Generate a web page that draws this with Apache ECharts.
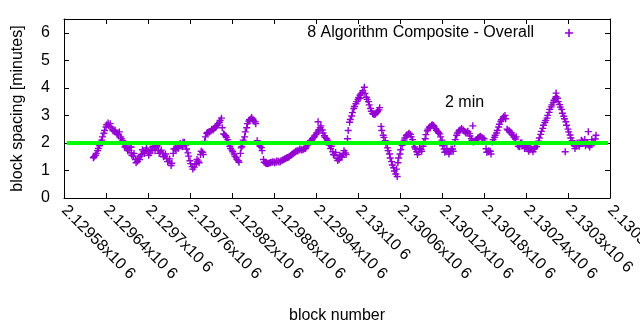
<!DOCTYPE html>
<html>
<head>
<meta charset="utf-8">
<script src="https://cdn.jsdelivr.net/npm/echarts@6/dist/echarts.min.js"></script>
<style>
  html, body { margin: 0; padding: 0; background: #ffffff; }
  #chart { width: 640px; height: 330px; }
</style>
</head>
<body>
<div id="chart"></div>
<script>
// Block spacing (minutes), two interleaved samplings every `blockStep` blocks
const firstBlock = 2129622;
const blockStep = 3;
const spacing = [
  1.46, 1.55, 1.72, 1.90, 2.10, 2.35, 2.58, 2.72, 2.70, 2.50,
  2.42, 2.36, 2.30, 2.22, 2.08, 1.85, 1.79, 1.74, 1.64, 1.52,
  1.40, 1.33, 1.40, 1.58, 1.69, 1.74, 1.68, 1.63, 1.73, 1.83,
  1.85, 1.74, 1.67, 1.62, 1.52, 1.44, 1.34, 1.18, 1.62, 1.80,
  1.86, 1.89, 1.93, 1.96, 1.92, 1.64, 1.35, 1.14, 1.12, 1.25,
  1.34, 1.58, 1.66, 2.05, 2.35, 2.39, 2.43, 2.47, 2.55, 2.64,
  2.75, 2.90, 2.33, 2.26, 2.12, 1.88, 1.74, 1.60, 1.47, 1.35,
  1.62, 1.98, 2.22, 2.55, 2.79, 2.87, 2.86, 2.77, 2.08, 1.94,
  1.83, 1.40, 1.27, 1.24, 1.27, 1.30, 1.32, 1.30, 1.33, 1.32,
  1.37, 1.41, 1.45, 1.48, 1.54, 1.60, 1.66, 1.72, 1.74, 1.75,
  1.77, 1.80, 1.92, 2.04, 2.11, 2.20, 2.30, 2.43, 2.55, 2.47,
  2.26, 2.16, 2.05, 1.80, 1.68, 1.56, 1.44, 1.40, 1.52, 1.61,
  1.64, 2.15, 2.75, 2.98, 3.25, 3.42, 3.58, 3.73, 3.83, 4.02,
  3.66, 3.50, 3.25, 3.07, 3.03, 3.10, 3.20, 2.60, 2.28, 2.08,
  1.82, 1.60, 1.32, 1.10, 0.87, 1.28, 1.60, 1.91, 2.10, 2.26,
  2.32, 2.31, 2.12, 1.85, 1.68, 1.67, 1.77, 1.88, 2.15, 2.44,
  2.56, 2.63, 2.63, 2.52, 2.41, 2.33, 2.10, 1.78, 1.70, 1.67,
  1.69, 1.78, 1.98, 2.28, 2.43, 2.48, 2.48, 2.41, 2.39, 2.34,
  2.15, 2.03, 2.08, 2.17, 2.22, 2.20, 2.15, 1.79, 1.67, 1.70,
  2.03, 2.20, 2.36, 2.58, 2.78, 2.90, 3.00, 2.50, 2.44, 2.37,
  2.26, 2.14, 1.95, 1.86, 2.01, 1.93, 1.84, 1.77, 1.75, 1.76,
  1.79, 1.87, 2.06, 2.31, 2.53, 2.74, 2.90, 3.11, 3.31, 3.47,
  3.62, 3.62, 3.39, 3.22, 2.97, 2.77, 2.50, 2.29, 2.08, 1.90,
  1.89, 1.93, 1.98, 2.06, 2.12, 1.98, 1.91, 1.93, 2.03, 2.14
];
// The blocks one after each of the above
const spacingNext = [
  1.50, 1.62, 1.80, 2.02, 2.22, 2.45, 2.66, 2.62, 2.58, 2.44,
  2.46, 2.30, 2.40, 2.15, 1.95, 1.92, 1.72, 1.84, 1.55, 1.62,
  1.28, 1.45, 1.52, 1.75, 1.62, 1.82, 1.55, 1.76, 1.88, 1.72,
  1.90, 1.62, 1.74, 1.50, 1.60, 1.32, 1.42, 1.26, 1.78, 1.74,
  1.80, 1.98, 1.86, 2.02, 1.78, 1.52, 1.25, 1.05, 1.22, 1.40,
  1.28, 1.70, 1.58, 2.22, 2.38, 2.41, 2.50, 2.52, 2.60, 2.70,
  2.82, 2.55, 2.30, 2.20, 1.98, 1.80, 1.68, 1.52, 1.40, 1.30,
  1.82, 2.10, 2.40, 2.70, 2.84, 2.92, 2.80, 2.70, 1.98, 1.88,
  1.72, 1.30, 1.25, 1.26, 1.29, 1.31, 1.28, 1.34, 1.31, 1.35,
  1.39, 1.43, 1.47, 1.52, 1.57, 1.63, 1.70, 1.71, 1.78, 1.74,
  1.79, 1.85, 1.98, 2.08, 2.15, 2.25, 2.36, 2.48, 2.62, 2.36,
  2.20, 2.10, 1.92, 1.88, 1.58, 1.65, 1.36, 1.55, 1.48, 1.72,
  1.58, 2.45, 2.85, 3.10, 3.32, 3.50, 3.65, 3.78, 3.90, 3.80,
  3.58, 3.38, 3.15, 3.04, 3.06, 3.15, 3.28, 2.45, 2.20, 1.95,
  1.72, 1.45, 1.20, 0.98, 1.05, 1.45, 1.75, 2.00, 2.18, 2.30,
  2.35, 2.22, 1.95, 1.78, 1.58, 1.80, 1.70, 2.02, 2.30, 2.50,
  2.60, 2.66, 2.58, 2.46, 2.37, 2.22, 1.90, 1.66, 1.80, 1.60,
  1.78, 1.70, 2.12, 2.36, 2.46, 2.52, 2.44, 2.36, 2.42, 2.25,
  2.08, 2.05, 2.12, 2.20, 2.24, 2.18, 2.05, 1.66, 1.72, 1.60,
  2.12, 2.28, 2.45, 2.68, 2.84, 2.95, 2.88, 2.47, 2.40, 2.30,
  2.20, 2.22, 1.88, 2.00, 1.90, 1.80, 1.90, 1.70, 1.84, 1.68,
  1.85, 1.95, 2.18, 2.42, 2.64, 2.82, 3.00, 3.22, 3.38, 3.55,
  3.68, 3.50, 3.30, 3.08, 2.88, 2.64, 2.40, 2.18, 1.98, 1.80,
  2.00, 1.88, 2.10, 2.00, 1.90, 1.98, 1.85, 2.12, 2.00, 2.28
];

// Isolated blocks that sit away from the running trend
const extraBlocks  = [2129676, 2129750, 2129834, 2129943, 2130003, 2130056, 2130164, 2130283, 2130296, 2130329];
const extraSpacing = [1.85,    2.02,    1.87,    2.77,    3.62,    0.78,    2.62,    3.81,    1.68,    2.41];

// Target spacing reference line
const targetSpacing = 2;
const targetBlocks = [2129584, 2130357];

// Axes
const xMin = 2129580, xMax = 2130360, xStep = 60;
const yTicks = [0, 1, 2, 3, 4, 5, 6];
const yMax = 6.5;

const seriesName = '8 Algorithm Composite - Overall';
const noteText = '2 min';

const points = [];
spacing.forEach((v, i) => points.push([firstBlock + i * blockStep, v]));
spacingNext.forEach((v, i) => points.push([firstBlock + i * blockStep + 1, v]));
extraBlocks.forEach((b, i) => points.push([b, extraSpacing[i]]));

// "+" marker with slightly heavier arms
const plus = 'path://M2.8,0H4.2V2.8H7V4.2H4.2V7H2.8V4.2H0V2.8H2.8Z';
const font = 'Liberation Sans';
const black = '#000000';

const chart = echarts.init(document.getElementById('chart'), null, { renderer: 'canvas' });

const baseX = {
  type: 'value', min: xMin, max: xMax, interval: xStep,
  splitLine: { show: false },
  axisLine: { show: true, onZero: false, lineStyle: { color: black, width: 1 } },
  axisTick: { show: true, inside: true, length: 5, lineStyle: { color: black } }
};
const baseY = {
  type: 'value', min: 0, max: yMax, interval: 1,
  splitLine: { show: false },
  axisLine: { show: true, onZero: false, lineStyle: { color: black, width: 1 } },
  axisTick: { show: true, inside: true, length: 5, customValues: yTicks, lineStyle: { color: black } }
};

chart.setOption({
  animation: false,
  backgroundColor: '#ffffff',
  textStyle: { fontFamily: font },
  grid: { left: 64, right: 30, top: 19, bottom: 132, containLabel: false, outerBoundsMode: 'none' },
  legend: {
    data: [{ name: seriesName, icon: plus }],
    right: 62, top: 20,
    align: 'right',
    itemWidth: 60, itemHeight: 8,
    symbolKeepAspect: true,
    textStyle: { fontFamily: font, fontSize: 16, color: black }
  },
  xAxis: [
    Object.assign({}, baseX, {
      position: 'bottom',
      name: 'block number', nameLocation: 'middle', nameGap: 110,
      nameTextStyle: { fontFamily: font, fontSize: 16, color: black },
      axisLabel: {
        rotate: -45, margin: 10, fontFamily: font, fontSize: 16, color: black,
        formatter: v => parseFloat((v / 1e6).toFixed(5)) + 'x10 6'
      }
    }),
    Object.assign({}, baseX, { position: 'top', axisLabel: { show: false } })
  ],
  yAxis: [
    Object.assign({}, baseY, {
      position: 'left',
      name: 'block spacing [minutes]', nameLocation: 'middle', nameGap: 38,
      nameTextStyle: { fontFamily: font, fontSize: 16, color: black },
      axisLabel: { margin: 14, fontFamily: font, fontSize: 16, color: black, customValues: yTicks }
    }),
    Object.assign({}, baseY, { position: 'right', axisLabel: { show: false } })
  ],
  graphic: [{
    type: 'text', left: 445, top: 95,
    style: { text: noteText, font: '16px "Liberation Sans"', fill: black }
  }],
  series: [
    {
      name: seriesName,
      type: 'scatter',
      xAxisIndex: 0, yAxisIndex: 0,
      symbol: plus, symbolSize: 7,
      itemStyle: { color: '#9400d3', opacity: 1 },
      data: points,
      z: 2
    },
    {
      name: 'target',
      type: 'line',
      xAxisIndex: 0, yAxisIndex: 0,
      data: targetBlocks.map(b => [b, targetSpacing]),
      symbol: 'none',
      lineStyle: { color: '#00ff00', width: 4 },
      z: 3
    }
  ]
});
</script>
</body>
</html>
